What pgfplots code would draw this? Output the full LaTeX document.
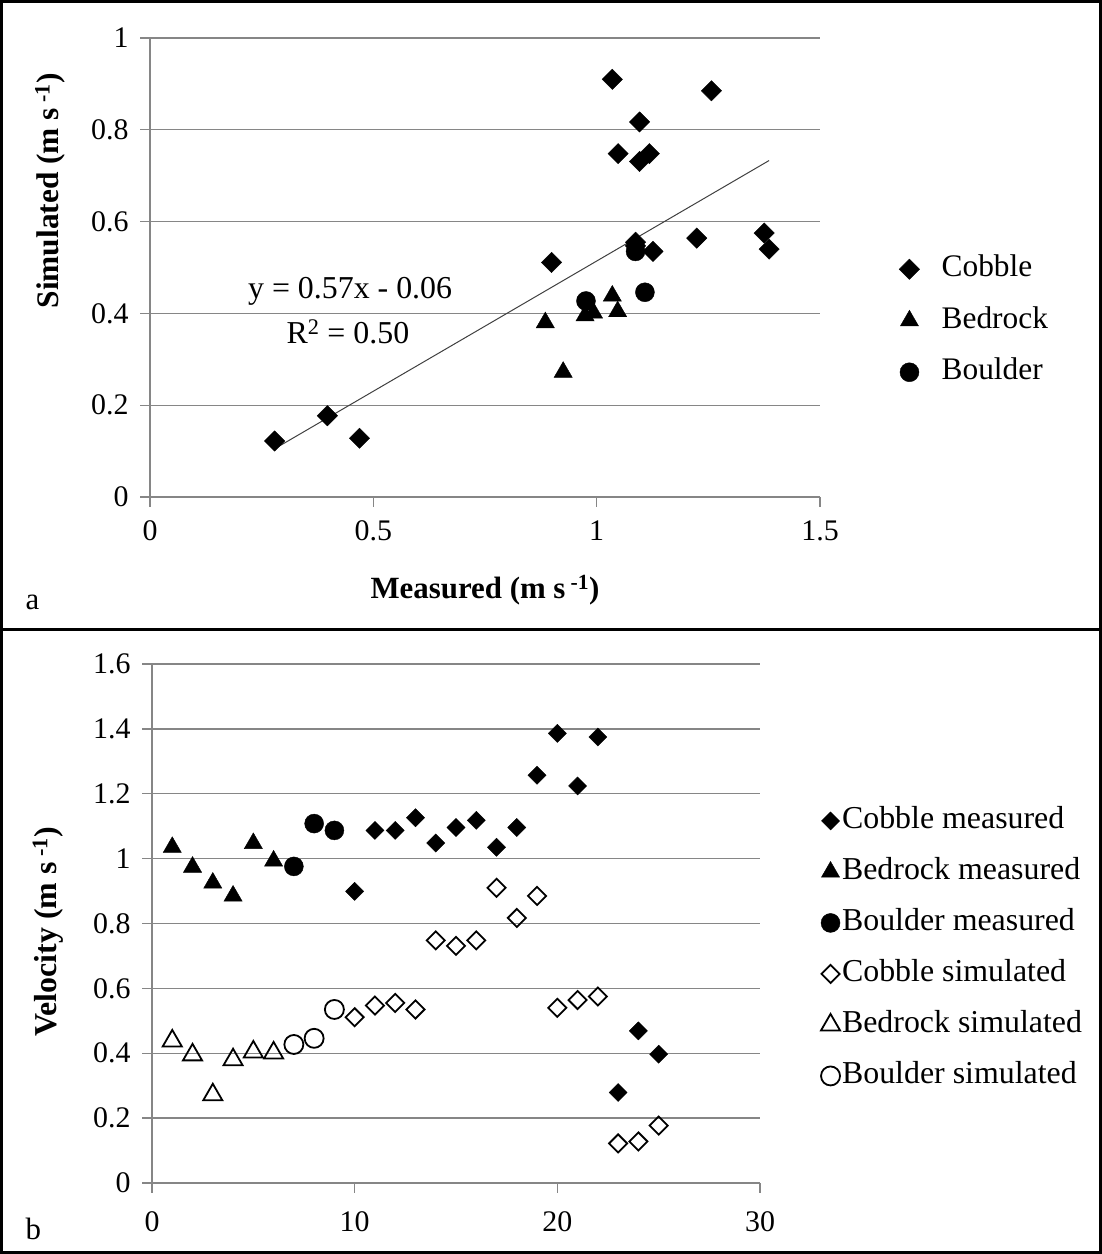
\documentclass[border=0pt]{standalone}
\usepackage{fontspec}
\setmainfont{Liberation Serif}
\usepackage{pgfplots}
\usepackage{pgfplotstable}
\pgfplotsset{compat=1.18}
\definecolor{gridc}{HTML}{868686}

% idx = position in panel b, meas = measured, sim = simulated (m s^-1)
\pgfplotstableread{
idx meas sim
10 0.899 0.511
11 1.087 0.547
12 1.087 0.555
13 1.126 0.535
14 1.048 0.748
15 1.096 0.731
16 1.118 0.748
17 1.035 0.910
18 1.096 0.817
19 1.257 0.885
20 1.386 0.540
21 1.224 0.564
22 1.375 0.575
23 0.279 0.122
24 0.469 0.128
25 0.397 0.177
}\cobble
\pgfplotstableread{
idx meas sim
1 1.035 0.438
2 0.974 0.395
3 0.925 0.272
4 0.885 0.380
5 1.047 0.404
6 0.993 0.401
}\bedrock
\pgfplotstableread{
idx meas sim
7 0.976 0.427
8 1.108 0.446
9 1.087 0.535
}\boulder

\pgfplotsset{
  panel/.style={
    scale only axis,
    axis lines=left,
    axis line style={gridc, line width=1.3bp, -},
    ymajorgrids,
    grid style={gridc, line width=1.3bp},
    tick style={gridc, line width=1.3bp},
    tick align=outside,
    major tick length=10bp,
    ticklabel style={font=\fontsize{30}{34}\selectfont},
    /pgf/number format/assume math mode=true,
    clip=false,
    legend cell align=left,
  },
}

\begin{document}
\begin{tikzpicture}[x=1bp,y=1bp]
\useasboundingbox (0,0) rectangle (1102,1254);
\draw[line width=3bp] (1.5,1.5) rectangle (1100.5,1252.5);
\draw[line width=3bp] (0,624) -- (1102,624);

% ---------------- panel a ----------------
\begin{axis}[panel,
  at={(150bp,757bp)}, anchor=south west,
  width=670bp, height=459bp,
  xmin=0, xmax=1.5, ymin=0, ymax=1,
  xtick={0,0.5,1,1.5}, ytick={0,0.2,0.4,0.6,0.8,1},
  yticklabel style={xshift=-8bp},
  xticklabel style={yshift=-10bp},
  xlabel={Measured (m s\,\textsuperscript{-1})},
  ylabel={Simulated (m s\,\textsuperscript{-1})},
  every axis x label/.style={at={(axis description cs:0.5,-0.203)}, anchor=center, font=\bfseries\fontsize{31}{34}\selectfont},
  every axis y label/.style={at={(axis description cs:-0.149,0.667)}, anchor=center, rotate=90, font=\bfseries\fontsize{31.5}{34}\selectfont},
  legend style={at={(axis description cs:1.118,0.526)}, anchor=north west, draw=none, fill=none,
    font=\fontsize{31.5}{36}\selectfont, row sep=24.5bp, inner sep=0pt,
    nodes={inner sep=0pt, text height=21bp, text depth=6bp},
    /tikz/every odd column/.append style={column sep=22bp}},
]
\addplot[forget plot, color=black!75, line width=1bp] coordinates {(0.279,0.105) (1.386,0.733)};
\addplot[only marks, mark=square*, mark size=7.2bp, mark options={rotate=45, fill=black, draw=black}] table[x=meas, y=sim] {\cobble};
\addlegendentry{Cobble}
\addplot[only marks, mark=triangle*, mark size=10.5bp, mark options={fill=black, draw=black}] table[x=meas, y=sim] {\bedrock};
\addlegendentry{Bedrock}
\addplot[only marks, mark=*, mark size=9.5bp, mark options={fill=black, draw=black}] table[x=meas, y=sim] {\boulder};
\addlegendentry{Boulder}
\node[font=\fontsize{32}{36}\selectfont, anchor=center] at (axis cs:0.448,0.447) {y = 0.57x - 0.06};
\node[font=\fontsize{32}{36}\selectfont, anchor=center] at (axis cs:0.443,0.359) {R\textsuperscript{2} = 0.50};
\end{axis}
\node[anchor=base west, font=\fontsize{31}{34}\selectfont] at (22,644) {a};

% ---------------- panel b ----------------
\begin{axis}[panel,
  at={(152bp,71bp)}, anchor=south west,
  width=608bp, height=519bp,
  xmin=0, xmax=30, ymin=0, ymax=1.6,
  xtick={0,10,20,30}, ytick={0,0.2,0.4,0.6,0.8,1,1.2,1.4,1.6},
  yticklabel style={xshift=-8bp},
  xticklabel style={yshift=-15bp},
  ylabel={Velocity (m s\,\textsuperscript{-1})},
  every axis y label/.style={at={(axis description cs:-0.171,0.484)}, anchor=center, rotate=90, font=\bfseries\fontsize{32}{34}\selectfont},
  legend style={at={(axis description cs:1.100,0.724)}, anchor=north west, draw=none, fill=none,
    font=\fontsize{32}{36}\selectfont, row sep=24bp, inner sep=0pt,
    nodes={inner sep=0pt, text height=21bp, text depth=6bp},
    /tikz/every odd column/.append style={column sep=2bp}},
]
\addplot[only marks, mark=square*, mark size=6.4bp, mark options={rotate=45, fill=black, draw=black}] table[x=idx, y=meas] {\cobble};
\addlegendentry{Cobble measured}
\addplot[only marks, mark=triangle*, mark size=10.5bp, mark options={fill=black, draw=black}] table[x=idx, y=meas] {\bedrock};
\addlegendentry{Bedrock measured}
\addplot[only marks, mark=*, mark size=9.5bp, mark options={fill=black, draw=black}] table[x=idx, y=meas] {\boulder};
\addlegendentry{Boulder measured}
\addplot[only marks, mark=square, mark size=6.4bp, mark options={rotate=45, fill=white, draw=black, line width=1.8bp}] table[x=idx, y=sim] {\cobble};
\addlegendentry{Cobble simulated}
\addplot[only marks, mark=triangle, mark size=11bp, mark options={fill=white, draw=black, line width=1.8bp}] table[x=idx, y=sim] {\bedrock};
\addlegendentry{Bedrock simulated}
\addplot[only marks, mark=o, mark size=9.5bp, mark options={fill=white, draw=black, line width=1.8bp}] table[x=idx, y=sim] {\boulder};
\addlegendentry{Boulder simulated}
\end{axis}
\node[anchor=base west, font=\fontsize{31}{34}\selectfont] at (22,14) {b};
\end{tikzpicture}
\end{document}
